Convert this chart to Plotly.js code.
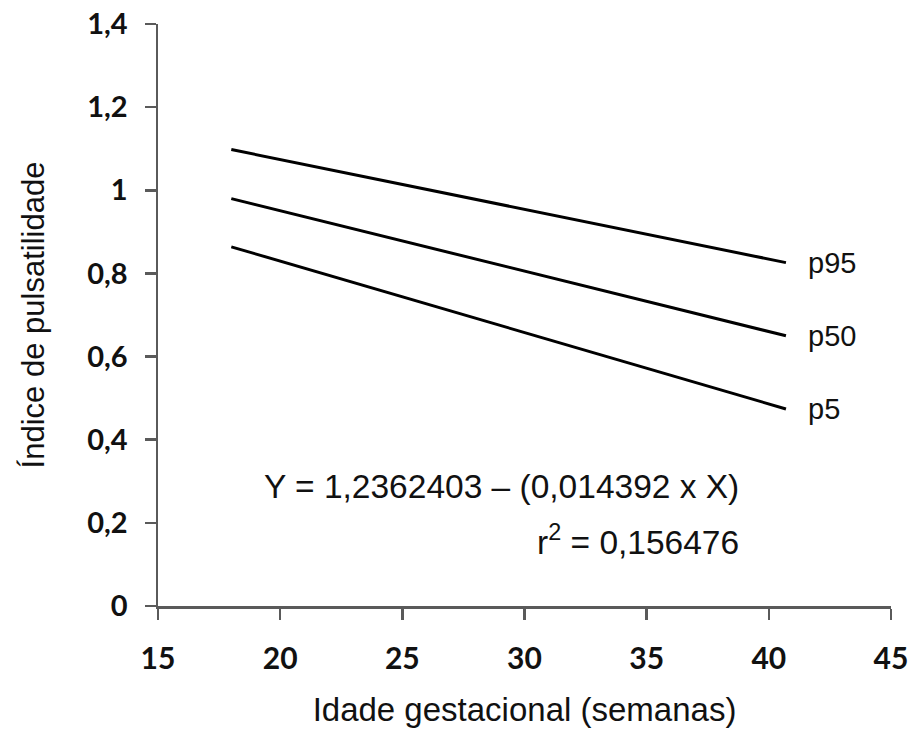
<!DOCTYPE html>
<html>
<head>
<meta charset="utf-8">
<script src="https://cdn.plot.ly/plotly-3.0.1.min.js"></script>
<style>html,body{margin:0;padding:0;background:#fff;}#chart{width:914px;height:731px;}</style>
</head>
<body>
<div id="chart"></div>
<script>
// Data
const seriesNames = ["p95", "p50", "p5"];
const weeks = [18, 40.7];
const p95 = [1.098, 0.826];
const p50 = [0.980, 0.650];
const p5 = [0.864, 0.474];
const xTicks = [15, 20, 25, 30, 35, 40, 45];
const yTicks = [0, 0.2, 0.4, 0.6, 0.8, 1, 1.2, 1.4];
const yTickLabels = ["0", "0,2", "0,4", "0,6", "0,8", "1", "1,2", "1,4"];
const equationText = "Y = 1,2362403 – (0,014392 x X)";
const r2Text = "r<sup>2</sup> = 0,156476";

const allSeries = [p95, p50, p5];
const traces = allSeries.map((vals, i) => ({
  x: weeks, y: vals, type: "scatter", mode: "lines", name: seriesNames[i],
  line: {color: "#000000", width: 3}, showlegend: false, hoverinfo: "skip"
}));

const textFont = "Liberation Sans, Arial, sans-serif";
const annotations = allSeries.map((vals, i) => ({
  x: weeks[weeks.length - 1], y: vals[vals.length - 1], xref: "x", yref: "y",
  text: seriesNames[i], showarrow: false, xanchor: "left", yanchor: "middle",
  xshift: 20, font: {family: textFont, size: 29, color: "#111"}
}));
annotations.push({
  x: 0.796, y: 0.2046, xref: "paper", yref: "paper", text: equationText,
  showarrow: false, xanchor: "right", yanchor: "middle",
  font: {family: textFont, size: 33.5, color: "#111"}
});
annotations.push({
  x: 0.796, y: 0.1135, xref: "paper", yref: "paper", text: r2Text,
  showarrow: false, xanchor: "right", yanchor: "middle",
  font: {family: textFont, size: 33.5, color: "#111"}
});

const layout = {
  width: 914, height: 731,
  margin: {l: 158, r: 23, t: 24, b: 125},
  paper_bgcolor: "#ffffff", plot_bgcolor: "#ffffff",
  showlegend: false,
  xaxis: {
    range: [15, 45], tickvals: xTicks, ticktext: xTicks.map(String),
    showgrid: false, zeroline: false, showline: true, linecolor: "#5a5a5a", linewidth: 2.5,
    ticks: "outside", ticklen: 11, tickwidth: 2.5, tickcolor: "#5a5a5a",
    ticklabelstandoff: 13,
    tickfont: {family: "Lato, sans-serif", size: 30, color: "#111", weight: "bold"},
    title: {text: "Idade gestacional (semanas)", standoff: 25,
      font: {family: textFont, size: 33, color: "#111"}}
  },
  yaxis: {
    range: [0, 1.4], tickvals: yTicks, ticktext: yTickLabels,
    showgrid: false, zeroline: false, showline: true, linecolor: "#5a5a5a", linewidth: 2.5,
    ticks: "outside", ticklen: 11, tickwidth: 2.5, tickcolor: "#5a5a5a",
    ticklabelstandoff: 11,
    tickfont: {family: "Lato, sans-serif", size: 29, color: "#111", weight: "bold"},
    title: {text: "Índice de pulsatilidade", standoff: 34,
      font: {family: textFont, size: 31, color: "#111"}}
  },
  annotations: annotations
};

Plotly.newPlot("chart", traces, layout, {displayModeBar: false, staticPlot: true});
</script>
</body>
</html>
